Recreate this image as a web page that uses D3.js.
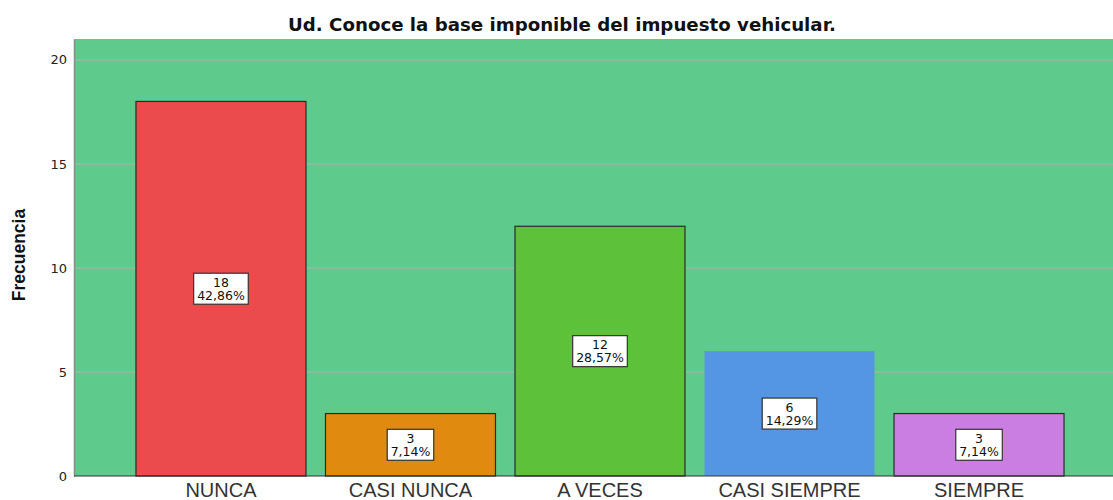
<!DOCTYPE html>
<html lang="es">
<head>
<meta charset="utf-8">
<title>Impuesto vehicular</title>
<script src="https://cdnjs.cloudflare.com/ajax/libs/d3/7.8.5/d3.min.js"></script>
<style>
  body { margin: 0; background: #fff; }
  text { font-family: "Liberation Sans", Arial, sans-serif; }
  .ytick text { font-family: "DejaVu Sans", sans-serif; font-size: 13px; fill: #222; }
  .xlab { font-size: 20px; fill: #333; }
  .val { font-family: "DejaVu Sans", sans-serif; font-size: 12.5px; fill: #111; }
  .title { font-family: "DejaVu Sans", sans-serif; font-size: 18.2px; font-weight: bold; fill: #111; }
  .ylab { font-size: 17.5px; font-weight: bold; fill: #111; }
</style>
</head>
<body>
<div id="chart"></div>
<script>
const categories = ["NUNCA", "CASI NUNCA", "A VECES", "CASI SIEMPRE", "SIEMPRE"];
const counts = [18, 3, 12, 6, 3];
const percents = ["42,86%", "7,14%", "28,57%", "14,29%", "7,14%"];
const yTicks = [0, 5, 10, 15, 20];
const barColors = ["#EC4B4E", "#E08A10", "#5DC13A", "#5596E4", "#CB7EE2"];
const barBorders = [true, true, true, false, true];

const width = 1113, height = 500;
const margin = {left: 74, top: 39, bottom: 24};
const plotRight = 1126;

const svg = d3.select("#chart").append("svg")
  .attr("width", width).attr("height", height);

const x = d3.scaleBand()
  .domain(categories)
  .range([margin.left, plotRight])
  .paddingInner(0.103)
  .paddingOuter(0.327);

const y = d3.scaleLinear()
  .domain([0, 21])
  .range([height - margin.bottom, margin.top]);

// plot background
svg.append("rect")
  .attr("x", margin.left).attr("y", y(21))
  .attr("width", plotRight - margin.left).attr("height", y(0) - y(21))
  .attr("fill", "#5ECA8B");

// grid
svg.append("g").selectAll("line")
  .data(yTicks.filter(d => d > 0))
  .join("line")
  .attr("x1", margin.left).attr("x2", plotRight)
  .attr("y1", d => y(d)).attr("y2", d => y(d))
  .attr("stroke", "#9db8a5").attr("stroke-width", 1.2);

// y axis
const yAxis = d3.axisLeft(y).tickValues(yTicks).tickSize(0).tickPadding(7);
svg.append("g")
  .attr("class", "ytick")
  .attr("transform", `translate(${margin.left},0)`)
  .call(yAxis)
  .call(g => g.select(".domain").attr("stroke", "#8a8a8a").attr("stroke-width", 1.5));

// bars
svg.append("g").selectAll("rect")
  .data(categories)
  .join("rect")
  .attr("x", d => x(d))
  .attr("y", (d, i) => y(counts[i]))
  .attr("width", x.bandwidth())
  .attr("height", (d, i) => y(0) - y(counts[i]))
  .attr("fill", (d, i) => barColors[i])
  .attr("stroke", (d, i) => barBorders[i] ? "#2a2a2a" : "none")
  .attr("stroke-width", 1.2);

// baseline
svg.append("line")
  .attr("x1", margin.left).attr("x2", plotRight)
  .attr("y1", y(0)).attr("y2", y(0))
  .attr("stroke", "#333").attr("stroke-width", 1.2);

// value labels
const labels = svg.append("g").selectAll("g")
  .data(categories)
  .join("g")
  .attr("transform", (d, i) => `translate(${x(d) + x.bandwidth() / 2},${y(counts[i] / 2)})`);

labels.append("rect")
  .attr("x", (d, i) => -(percents[i].length * 8.1 + 6) / 2)
  .attr("y", -15.5)
  .attr("width", (d, i) => percents[i].length * 8.1 + 6)
  .attr("height", 31)
  .attr("fill", "#fff")
  .attr("stroke", "#333")
  .attr("stroke-width", 1.2);

labels.append("text")
  .attr("class", "val")
  .attr("text-anchor", "middle")
  .attr("y", -2)
  .text((d, i) => counts[i]);

labels.append("text")
  .attr("class", "val")
  .attr("text-anchor", "middle")
  .attr("y", 11)
  .text((d, i) => percents[i]);

// x labels
svg.append("g").selectAll("text")
  .data(categories)
  .join("text")
  .attr("class", "xlab")
  .attr("x", d => x(d) + x.bandwidth() / 2)
  .attr("y", 497)
  .attr("text-anchor", "middle")
  .text(d => d);

// title
svg.append("text")
  .attr("class", "title")
  .attr("x", 562).attr("y", 31)
  .attr("text-anchor", "middle")
  .text("Ud. Conoce la base imponible del impuesto vehicular.");

// y label
svg.append("text")
  .attr("class", "ylab")
  .attr("transform", "translate(25,255) rotate(-90)")
  .attr("text-anchor", "middle")
  .text("Frecuencia");
</script>
</body>
</html>
